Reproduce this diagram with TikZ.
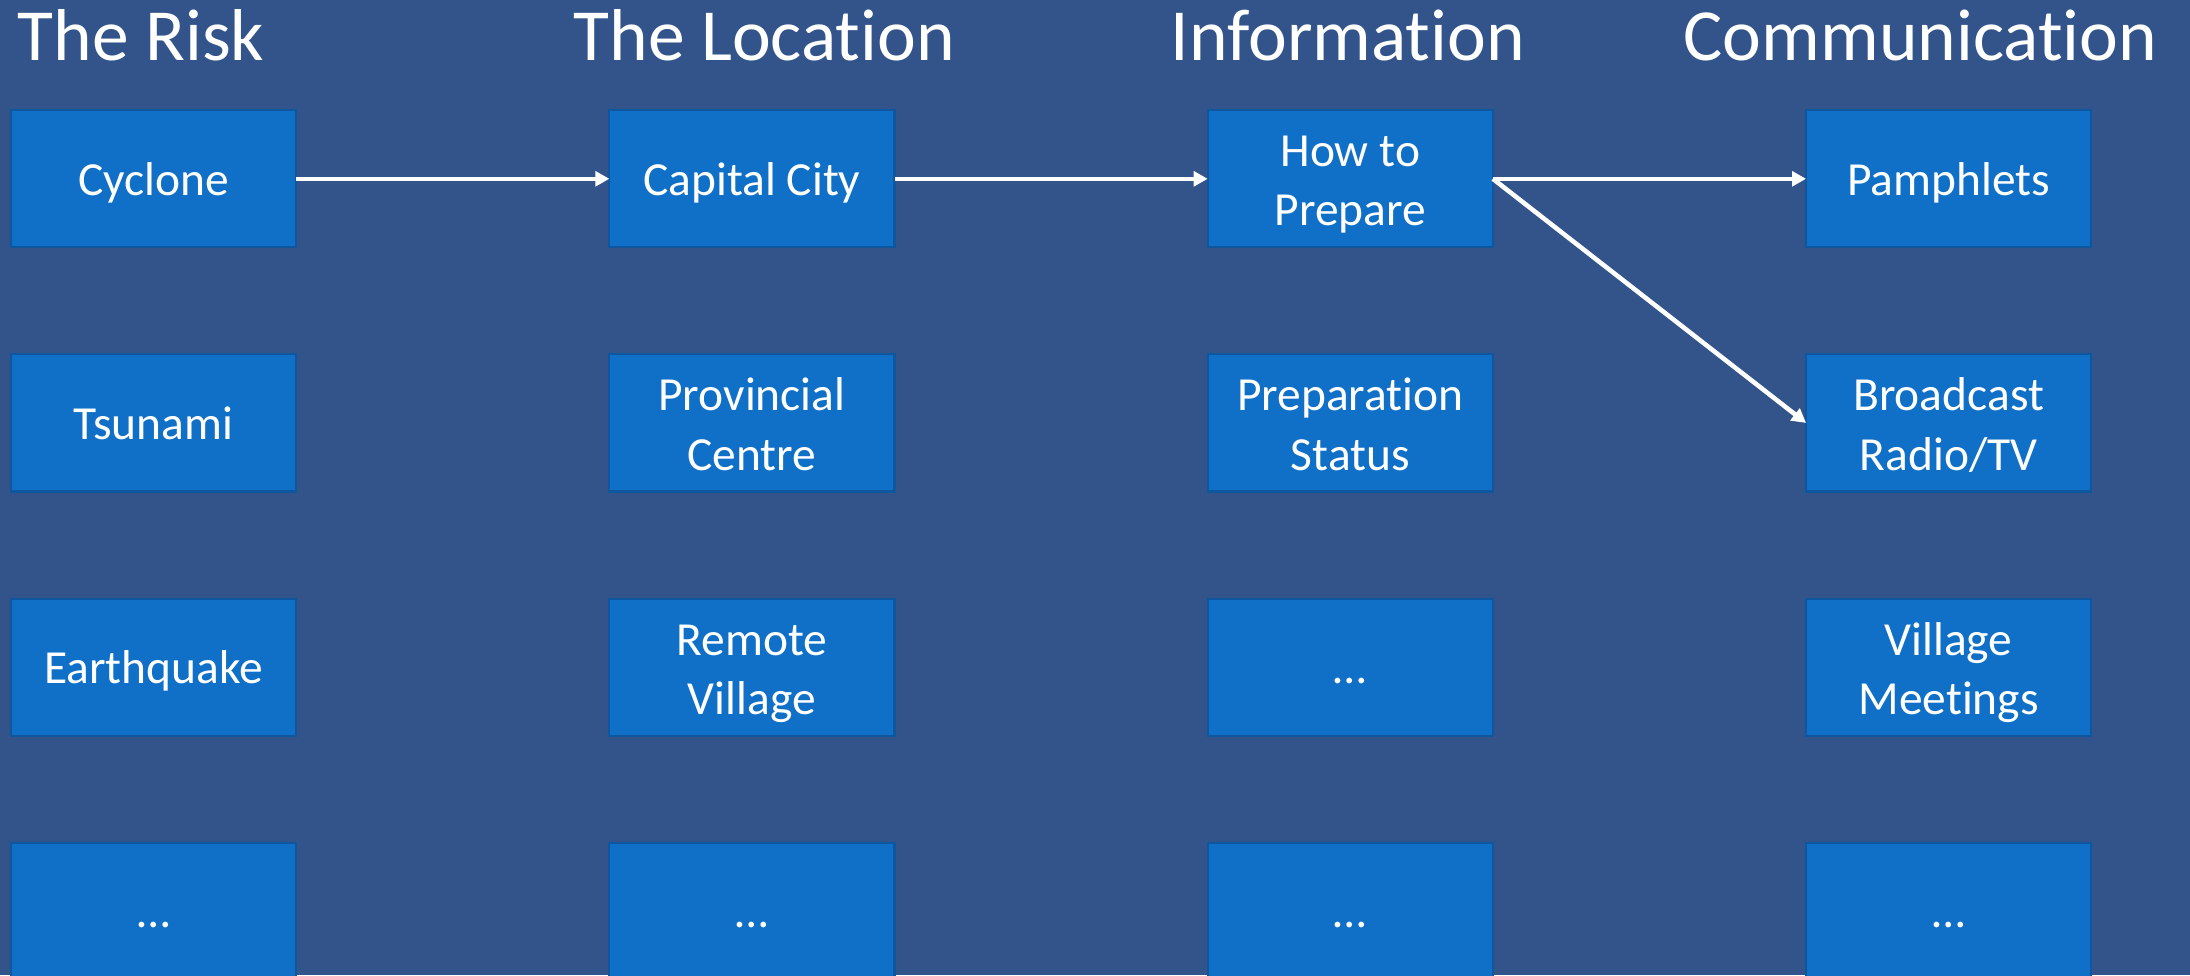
\documentclass[tikz,border=0pt]{standalone}
\usepackage{fontspec}
\setmainfont{Carlito}[Ligatures={TeX,NoCommon}]
\usetikzlibrary{positioning, arrows.meta}
\definecolor{slide}{RGB}{50,84,139}
\definecolor{boxblue}{RGB}{16,112,199}
\definecolor{boxedge}{RGB}{14,86,158}
\newcommand{\twolines}[2]{\rule{0pt}{13.5pt}#1\\#2\rule[-3.5pt]{0pt}{3.5pt}}

\begin{document}
\begin{tikzpicture}[
    x=0.01cm, y=-0.01cm,
    node distance=1.07cm and 3.13cm,
    item/.style={rectangle, draw=boxedge, line width=0.6pt, fill=boxblue, text=white, align=center, minimum width=2.85cm, minimum height=1.37cm, inner sep=0pt, outer sep=0pt, font=\fontsize{13.5}{16.8}\selectfont,
      execute at begin node={\rule{0pt}{13pt}}, execute at end node={\rule[-3.5pt]{0pt}{3.5pt}}},
    heading/.style={anchor=base west, text=white, inner sep=0pt, font=\fontsize{20.9}{25}\selectfont},
    arr/.style={-{Triangle[length=4pt, width=4.2pt]}, white, line width=1.3pt},
]
\fill [slide] (0,0) rectangle (2190,975);
\useasboundingbox (0,0) rectangle (2190,975);

% headings
\node [heading] (hrisk) at (17,60) {The Risk};
\node [heading] (hloc) at (573,60) {The Location};
\node [heading] (hinfo) at (1170,60) {Information};
\node [heading] (hcomm) at (1683,60) {Communication};

% the risk
\node [item] (cyclone) at (153.6,178.8) {Cyclone};
\node [item, below=of cyclone] (tsunami) {Tsunami};
\node [item, below=of tsunami] (quake) {Earthquake};
\node [item, below=of quake] (riskmore) {…};

% the location
\node [item, right=of cyclone] (capital) {Capital City};
\node [item, below=of capital] (provincial) {\twolines{Provincial}{Centre}};
\node [item, below=of provincial] (remote) {\twolines{Remote}{Village}};
\node [item, below=of remote] (locmore) {…};

% information
\node [item, right=of capital] (howto) {\twolines{How to}{Prepare}};
\node [item, below=of howto] (status) {\twolines{Preparation}{Status}};
\node [item, below=of status] (infomore) {…};
\node [item, below=of infomore] (infomoreb) {…};

% communication
\node [item, right=of howto] (pamphlets) {Pamphlets};
\node [item, below=of pamphlets] (broadcast) {\twolines{Broadcast}{Radio/TV}};
\node [item, below=of broadcast] (meetings) {\twolines{Village}{Meetings}};
\node [item, below=of meetings] (commmore) {…};

\draw [arr] (cyclone) -- (capital);
\draw [arr] (capital) -- (howto);
\draw [arr] (howto.east) -- (pamphlets.west);
\draw [arr] (howto.east) -- (broadcast.west);

\end{tikzpicture}
\end{document}
